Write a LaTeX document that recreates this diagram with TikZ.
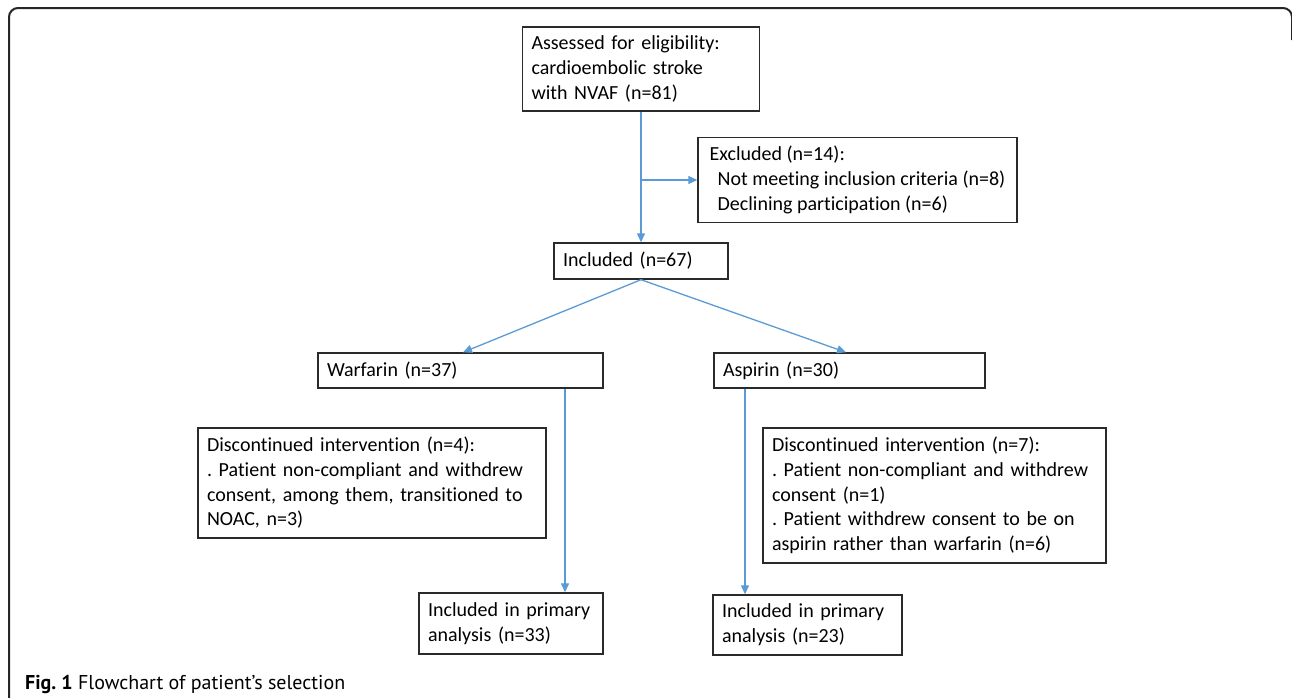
\documentclass[tikz,border=0pt]{standalone}
\usepackage{fontspec}
\setmainfont[Ligatures=NoCommon]{Carlito}
\newfontfamily\capfont{PT Sans}
\usetikzlibrary{shapes,arrows,arrows.meta}
\definecolor{flowblue}{HTML}{5B9BD5}
\definecolor{boxline}{HTML}{2A2A2A}
\frenchspacing

\begin{document}
\begin{tikzpicture}[x=1pt, y=-1pt, node distance = 100pt]
  \tikzstyle{process} = [rectangle, draw=boxline, line width=1.4pt, inner xsep=9pt, inner ysep=0pt, align=left, font=\fontsize{20pt}{24.7pt}\selectfont]
  \tikzstyle{arrow} = [line width=1.3pt, draw=flowblue, ->, >={Stealth[length=9pt,width=8pt,inset=0pt]}]
  \useasboundingbox (0,0) rectangle (1292,697);
  % frame
  \draw[line width=2pt, draw=black!85, rounded corners=9pt] (9,720) -- (9,8) -- (1292,8) -- (1292,40);
  \node (a) [process, text width=219pt, minimum height=84pt] at (641,69) {Assessed for eligibility:\\cardioembolic stroke\\with NVAF (n=81)};
  \node (e) [process, right of=a, xshift=116.5pt, yshift=-111pt, minimum width=319pt, minimum height=85pt] {Excluded (n=14):\\\hspace*{8pt}Not meeting inclusion criteria (n=8)\\\hspace*{8pt}Declining participation (n=6)};
  \node (i) [process, below of=a, yshift=-92pt, text width=156pt, minimum height=36pt] {Included (n=67)};
  \node (w) [process, below of=i, xshift=-180.5pt, yshift=-9.5pt, text width=267pt, minimum height=35pt] {Warfarin (n=37)};
  \node (s) [process, below of=i, xshift=208.5pt, yshift=-9.5pt, text width=253pt, minimum height=35pt] {Aspirin (n=30)};
  \node (dw) [process, below of=w, xshift=-88.5pt, yshift=-12.5pt, text width=330pt, minimum height=110pt] {Discontinued intervention (n=4):\\. Patient non-compliant and withdrew\\consent, among them, transitioned to\\NOAC, n=3)};
  \node (ds) [process, below of=s, xshift=85pt, yshift=-25pt, text width=325pt, minimum height=135pt] {Discontinued intervention (n=7):\\. Patient non-compliant and withdrew\\consent (n=1)\\. Patient withdrew consent to be on\\aspirin rather than warfarin (n=6)};
  \node (pw) [process, below of=dw, xshift=139pt, yshift=-40.5pt, text width=166pt, minimum height=61pt] {Included in primary\\analysis (n=33)};
  \node (ps) [process, below of=ds, xshift=-127pt, yshift=-29.5pt, text width=171pt, minimum height=60pt] {Included in primary\\analysis (n=23)};
  \node (cap) [anchor=base west, inner sep=0pt, font=\capfont\fontsize{20pt}{24pt}\selectfont] at (25,689) {\textbf{Fig. 1} Flowchart of patient’s selection};
  % connectors
  \draw [arrow] (a) -- (i);
  \draw [arrow] (a.south |- e.west) -- (e.west);
  \draw [arrow] (i.south) -- ([xshift=2.5pt]w.north);
  \draw [arrow] (i.south) -- ([xshift=-3.5pt]s.north);
  \draw [arrow] ([xshift=104.5pt]w.south) -- ([xshift=104.5pt]w.south |- pw.north);
  \draw [arrow] ([xshift=-104.5pt]s.south) -- ([xshift=-104.5pt]s.south |- ps.north);
\end{tikzpicture}
\end{document}
